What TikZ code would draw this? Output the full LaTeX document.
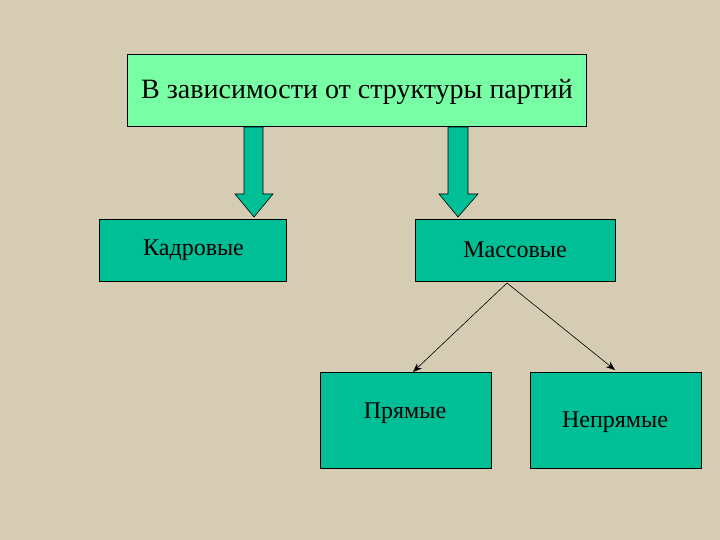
\documentclass[tikz,border=0pt]{standalone}
\usepackage{fontspec}
\setmainfont{Liberation Serif}
\usetikzlibrary{arrows.meta}
\begin{document}
\begin{tikzpicture}[x=1pt,y=-1pt,
  topbox/.style={draw=black,fill=lgreen,line width=0.8pt},
  tbox/.style={draw=black,fill=teal1,line width=0.8pt},
  barrow/.style={draw=black,fill=teal1,line width=0.6pt},
  lbl/.style={font=\fontsize{24}{28}\selectfont},
  thin/.style={draw=black,line width=0.6pt,-{Stealth[length=9pt,width=7pt]}}]
\definecolor{bgc}{RGB}{214,204,180}
\definecolor{lgreen}{RGB}{120,255,165}
\definecolor{teal1}{RGB}{0,190,150}
\fill[bgc] (0,0) rectangle (720,540);
\useasboundingbox (0,0) rectangle (720,540);
\node[topbox,minimum width=459pt,minimum height=72pt,anchor=north west,inner sep=0pt] (top) at (127,54) {};
\node[font=\fontsize{28}{32}\selectfont] (toptxt) at (357,92) {В зависимости от структуры партий};
\node[tbox,minimum width=187pt,minimum height=62pt,anchor=north west,inner sep=0pt] (kad) at (99,219) {};
\node[lbl,anchor=west,inner sep=0pt] (kadt) at (143,250) {Кадровые};
\node[tbox,minimum width=200pt,minimum height=62pt,anchor=north west,inner sep=0pt] (mas) at (415,219) {};
\node[lbl] (mast) at (515,250) {Массовые};
\node[tbox,minimum width=171pt,minimum height=96pt,anchor=north west,inner sep=0pt] (pr) at (320,372) {};
\node[lbl] (prt) at (405,413) {Прямые};
\node[tbox,minimum width=171pt,minimum height=96pt,anchor=north west,inner sep=0pt] (npr) at (530,372) {};
\node[lbl] (nprt) at (615,422) {Непрямые};
\draw[barrow] (244,127) -- (263,127) -- (263,194) -- (273,194) -- (254,217) -- (235,194) -- (244,194) -- cycle;
\draw[barrow] (448,127) -- (468,127) -- (468,194) -- (478,194) -- (458,217) -- (439,194) -- (448,194) -- cycle;
\coordinate (m) at (507,283);
\draw[thin] (m) -- (413,372);
\draw[thin] (m) -- (615,370);
\end{tikzpicture}
\end{document}
